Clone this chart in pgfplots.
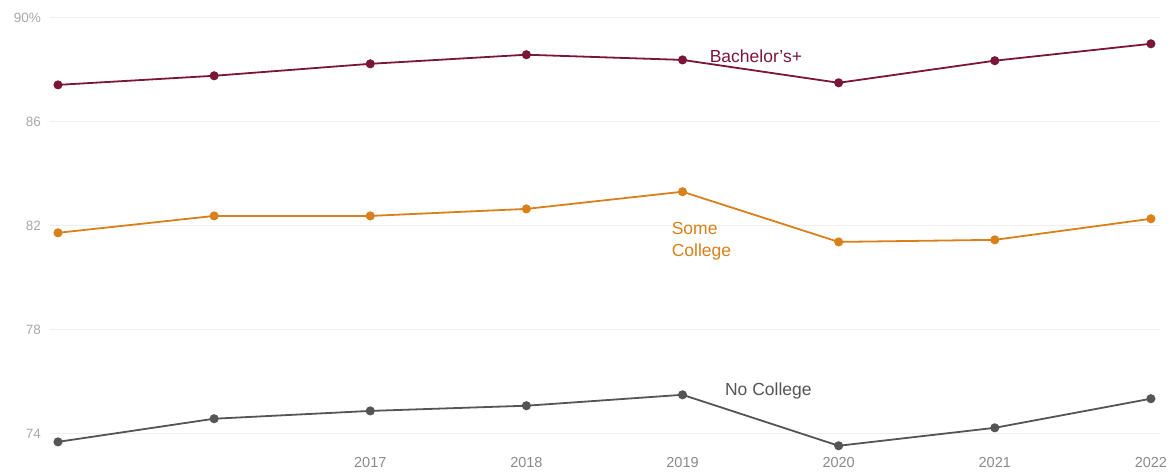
\documentclass[border=0pt]{standalone}
\usepackage{pgfplots}
\pgfplotsset{compat=1.18}
\usepackage{fontspec}
\setmainfont{Liberation Sans}
\definecolor{bach}{HTML}{7A1638}
\definecolor{some}{HTML}{D9801A}
\definecolor{noc}{HTML}{555555}
\definecolor{gridc}{HTML}{EEEEEE}
\definecolor{tickc}{HTML}{A8A8A8}
\definecolor{xtc}{HTML}{8A8A8A}
\begin{document}
\begin{tikzpicture}
\begin{axis}[
  scale only axis,
  width=1110.1pt, height=434.2pt,
  xmin=-0.05, xmax=7.06,
  ymin=73.3, ymax=90,
  axis line style={draw=none},
  major tick length=0pt,
  xtick={2,3,4,5,6,7},
  xticklabels={2017,2018,2019,2020,2021,2022},
  ytick={74,78,82,86,90},
  yticklabels={74,78,82,86,90\%},
  ymajorgrids,
  grid style={gridc, line width=1.2pt},
  /pgf/number format/assume math mode=true,
  xticklabel style={font=\fontsize{14.5}{16}\selectfont, text=xtc, inner sep=0pt, anchor=north, yshift=-5pt},
  yticklabel style={font=\fontsize{13.5}{15}\selectfont, text=tickc, inner sep=0pt, anchor=east, xshift=-9pt},
  clip=false,
]
\addplot[bach, line width=1.8pt, mark=*, mark size=3.6pt] coordinates {
(0,87.42) (1,87.77) (2,88.23) (3,88.58) (4,88.38) (5,87.50) (6,88.35) (7,89.00)};
\addplot[some, line width=1.8pt, mark=*, mark size=3.6pt] coordinates {
(0,81.73) (1,82.38) (2,82.38) (3,82.65) (4,83.31) (5,81.38) (6,81.46) (7,82.27)};
\addplot[noc, line width=1.8pt, mark=*, mark size=3.6pt] coordinates {
(0,73.69) (1,74.58) (2,74.88) (3,75.08) (4,75.50) (5,73.54) (6,74.23) (7,75.35)};
\node[text=bach, font=\fontsize{17.5}{19}\selectfont, anchor=center] at (axis cs:4.47,88.54) {Bachelor's+};
\node[text=some, font=\fontsize{17.5}{22}\selectfont, anchor=west, align=left, inner sep=0pt] at (axis cs:3.93,81.42) {Some\\College};
\node[text=noc, font=\fontsize{17.5}{19}\selectfont, anchor=center] at (axis cs:4.55,75.65) {No College};
\end{axis}
\path[use as bounding box] (-50.2pt,-22pt) rectangle (1122.8pt,452pt);
\end{tikzpicture}
\end{document}
